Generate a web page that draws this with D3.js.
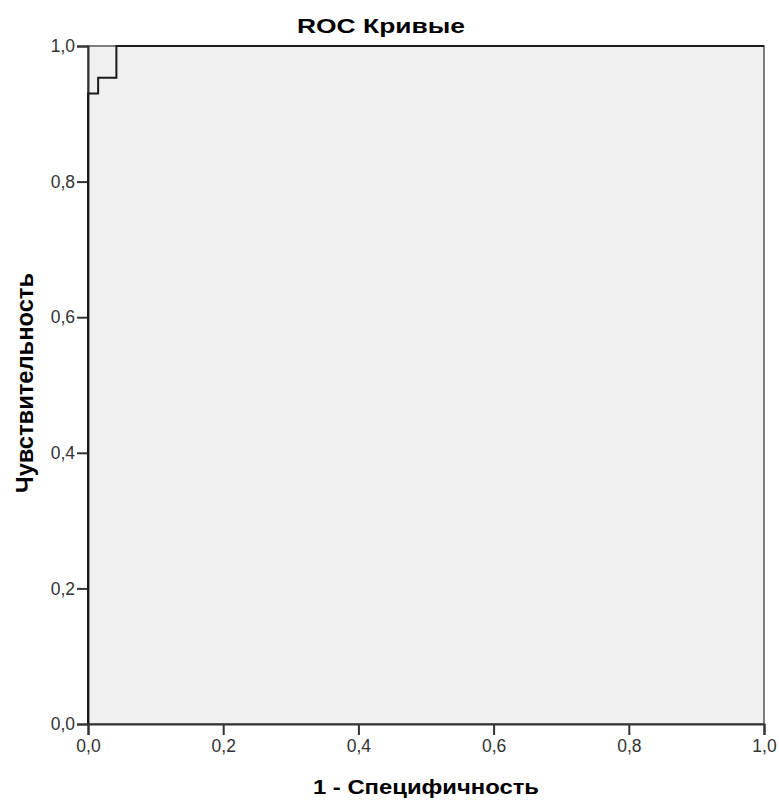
<!DOCTYPE html>
<html>
<head>
<meta charset="utf-8">
<script src="https://cdn.jsdelivr.net/npm/d3@7"></script>
<style>
  body { margin: 0; background: #fff; }
  svg { display: block; font-family: "Liberation Sans", Arial, sans-serif; }
</style>
</head>
<body>
<div id="chart"></div>
<script>
// ROC curve points (1 - specificity, sensitivity)
const fpr = [0, 0, 0.015, 0.042, 1];
const tpr = [0, 0.930, 0.953, 1, 1];
const tickValues = [0, 0.2, 0.4, 0.6, 0.8, 1.0];
const chartTitle = "ROC Кривые";
const xTitle = "1 - Специфичность";
const yTitle = "Чувствительность";

const width = 779;
const height = 801;
const margin = { top: 46, right: 15, bottom: 77, left: 88 };

const svg = d3.select("#chart")
  .append("svg")
  .attr("width", width)
  .attr("height", height);

const x = d3.scaleLinear()
  .domain([0, 1])
  .range([margin.left, width - margin.right]);

const y = d3.scaleLinear()
  .domain([0, 1])
  .range([height - margin.bottom, margin.top]);

// plot background
svg.append("rect")
  .attr("x", x(0))
  .attr("y", y(1))
  .attr("width", x(1) - x(0))
  .attr("height", y(0) - y(1))
  .attr("fill", "#f0f0f0")
  .attr("stroke", "#555")
  .attr("stroke-width", 1.5);

const fmt = d => d3.format(".1f")(d).replace(".", ",");

// y axis
const yAxis = svg.append("g")
  .attr("transform", `translate(${x(0)},0)`)
  .call(d3.axisLeft(y).tickValues(tickValues).tickFormat(fmt).tickSize(11).tickPadding(2));
// x axis
const xAxis = svg.append("g")
  .attr("transform", `translate(0,${y(0)})`)
  .call(d3.axisBottom(x).tickValues(tickValues).tickFormat(fmt).tickSize(11).tickPadding(5));

[xAxis, yAxis].forEach(a => {
  a.select(".domain").attr("stroke", "#333").attr("stroke-width", 2);
  a.selectAll(".tick line").attr("stroke", "#333").attr("stroke-width", 2);
  a.selectAll(".tick text")
    .attr("fill", "#333")
    .style("font-size", "17.5px")
    .style("font-family", "'Liberation Sans', Arial, sans-serif");
});

// ROC line
const line = d3.line()
  .x((d, i) => x(fpr[i]))
  .y((d, i) => y(tpr[i]))
  .curve(d3.curveStepAfter);

svg.append("path")
  .datum(fpr)
  .attr("d", line)
  .attr("fill", "none")
  .attr("stroke", "#1a1a1a")
  .attr("stroke-width", 2);

// titles (source image is stretched a bit horizontally)
svg.append("text")
  .attr("x", 381)
  .attr("y", 33)
  .attr("text-anchor", "middle")
  .attr("textLength", 168)
  .attr("lengthAdjust", "spacingAndGlyphs")
  .style("font-size", "21px")
  .style("font-weight", "bold")
  .text(chartTitle);

svg.append("text")
  .attr("x", (x(0) + x(1)) / 2)
  .attr("y", 794)
  .attr("text-anchor", "middle")
  .attr("textLength", 226)
  .attr("lengthAdjust", "spacingAndGlyphs")
  .style("font-size", "21px")
  .style("font-weight", "bold")
  .text(xTitle);

svg.append("text")
  .attr("transform", `translate(33,${(y(0) + y(1)) / 2 - 2}) rotate(-90)`)
  .attr("text-anchor", "middle")
  .attr("textLength", 220)
  .attr("lengthAdjust", "spacingAndGlyphs")
  .style("font-size", "24px")
  .style("font-weight", "bold")
  .text(yTitle);
</script>
</body>
</html>
